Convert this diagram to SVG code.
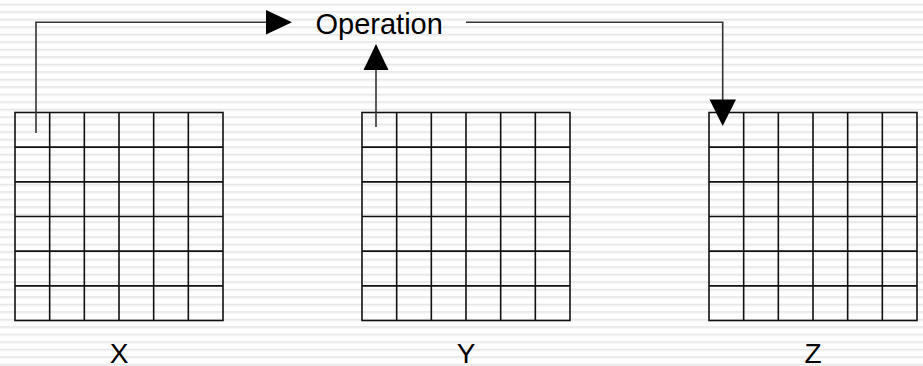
<svg xmlns="http://www.w3.org/2000/svg" width="923" height="366" viewBox="0 0 923 366">
<style>
.grid{fill:none;stroke:#111;stroke-width:1.6}
.conn{fill:none;stroke:#333;stroke-width:1.6}
.lbl{font-family:"Liberation Sans",Arial,sans-serif;font-size:28px;fill:#000}
</style>
<defs>
<pattern id="stripes" x="0" y="0" width="10" height="7.5" patternUnits="userSpaceOnUse">
<rect x="0" y="3.8" width="10" height="1.1" fill="#e2e2e2"/>
<rect x="0" y="4.9" width="10" height="1.1" fill="#ececec"/>
</pattern>
<g id="gridshape">
<rect x="0" y="0" width="208" height="208"/>
<path d="M34.67 0V208M69.33 0V208M104 0V208M138.67 0V208M173.33 0V208M0 34.67H208M0 69.33H208M0 104H208M0 138.67H208M0 173.33H208"/>
</g>
</defs>
<rect width="923" height="366" fill="#fff"/>
<rect width="923" height="366" fill="url(#stripes)"/>
<g id="node-X">
<use href="#gridshape" class="grid" transform="translate(15,112.5)"/>
<text class="lbl" x="119" y="362.5" text-anchor="middle">X</text>
</g>
<g id="node-Y">
<use href="#gridshape" class="grid" transform="translate(362,112.5)"/>
<text class="lbl" x="466" y="362.5" text-anchor="middle">Y</text>
</g>
<g id="node-Z">
<use href="#gridshape" class="grid" transform="translate(709,112.5)"/>
<text class="lbl" x="813" y="362.5" text-anchor="middle">Z</text>
</g>
<g id="node-Operation">
<text class="lbl" x="315.5" y="33.5" style="font-size:29px">Operation</text>
</g>
<g id="connectors">
<path class="conn" d="M36 133V22.3H268"/>
<polygon points="266,10 292,22.3 266,34.6" fill="#000"/>
<path class="conn" d="M376 127V68"/>
<polygon points="363.5,70 376,44 388.5,70" fill="#000"/>
<path class="conn" d="M466 22.3H722.7V101"/>
<polygon points="709.5,99.5 736,99.5 722.7,126" fill="#000"/>
</g>
</svg>
